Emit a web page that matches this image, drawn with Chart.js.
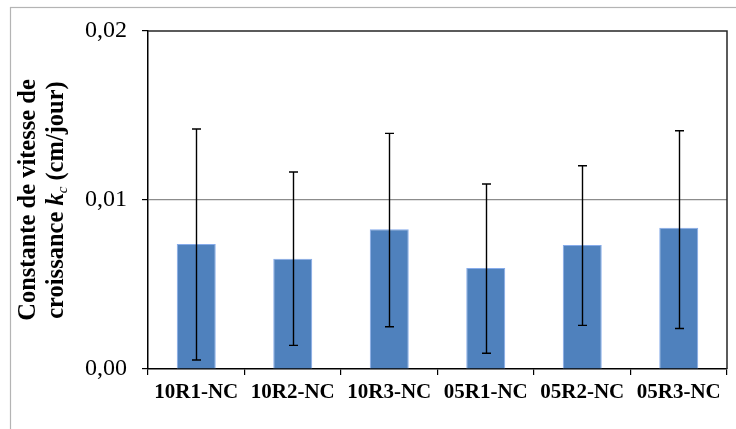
<!DOCTYPE html>
<html>
<head>
<meta charset="utf-8">
<script src="https://cdn.jsdelivr.net/npm/chart.js@4/dist/chart.umd.min.js"></script>
<style>
  html, body { margin: 0; padding: 0; background: #fff; }
  #wrap { width: 736px; height: 429px; position: relative; }
</style>
</head>
<body>
<div id="wrap"><canvas id="myChart"></canvas></div>
<script>
"use strict";

// Données
const categories = ["10R1-NC", "10R2-NC", "10R3-NC", "05R1-NC", "05R2-NC", "05R3-NC"];
const kcValues = [0.0074, 0.00653, 0.00827, 0.00598, 0.00734, 0.00836];
const errHigh = [0.0142, 0.01166, 0.01394, 0.01095, 0.01203, 0.0141];
const errLow = [0.00053, 0.0014, 0.0025, 0.00093, 0.00258, 0.0024];
const yTicks = [0, 0.01, 0.02];

const serif = "Times New Roman, Liberation Serif, serif";

// Cadre gris autour de tout le graphique
const outerFrame = {
  id: "outerFrame",
  beforeDraw(chart) {
    const ctx = chart.ctx;
    ctx.save();
    ctx.fillStyle = "#fff";
    ctx.fillRect(0, 0, chart.width, chart.height);
    ctx.strokeStyle = "#b4b4b4";
    ctx.lineWidth = 1.2;
    ctx.strokeRect(10.5, 7.5, 900, 600);
    ctx.restore();
  }
};

// Barres d'erreur
const errorBars = {
  id: "errorBars",
  afterDatasetsDraw(chart) {
    const ctx = chart.ctx;
    const meta = chart.getDatasetMeta(0);
    const y = chart.scales.y;
    ctx.save();
    ctx.strokeStyle = "#000";
    ctx.lineWidth = 1.4;
    meta.data.forEach(function (bar, i) {
      const x = Math.round(bar.x) + 0.5;
      const top = y.getPixelForValue(errHigh[i]);
      const bottom = y.getPixelForValue(errLow[i]);
      ctx.beginPath();
      ctx.moveTo(x, top);
      ctx.lineTo(x, bottom);
      ctx.moveTo(x - 4.5, top);
      ctx.lineTo(x + 4.5, top);
      ctx.moveTo(x - 4.5, bottom);
      ctx.lineTo(x + 4.5, bottom);
      ctx.stroke();
    });
    // bords haut et droit de la zone de tracé
    const a = chart.chartArea;
    ctx.strokeStyle = "#262626";
    ctx.lineWidth = 1.5;
    ctx.beginPath();
    ctx.moveTo(a.left, a.top);
    ctx.lineTo(a.right, a.top);
    ctx.lineTo(a.right, a.bottom);
    ctx.stroke();
    ctx.restore();
  }
};

// Titre de l'axe Y (deux lignes, k en italique avec indice c)
const yTitle = {
  id: "yTitle",
  afterDraw(chart) {
    const ctx = chart.ctx;
    const a = chart.chartArea;
    const cy = (a.top + a.bottom) / 2;
    ctx.save();
    ctx.fillStyle = "#000";
    ctx.textBaseline = "alphabetic";
    ctx.translate(0, cy);
    ctx.rotate(-Math.PI / 2);

    const bold = "bold 24.5px " + serif;
    const boldIt = "italic bold 24.5px " + serif;
    const subIt = "italic 15px " + serif;

    ctx.font = bold;
    ctx.textAlign = "center";
    ctx.fillText("Constante de vitesse de", 0, 35);

    const parts = [
      { t: "croissance ", f: bold, dy: 0 },
      { t: "k", f: boldIt, dy: 0 },
      { t: "c", f: subIt, dy: 4 },
      { t: " (cm/jour)", f: bold, dy: 0 }
    ];
    let total = 0;
    parts.forEach(function (p) {
      ctx.font = p.f;
      p.w = ctx.measureText(p.t).width;
      total += p.w;
    });
    let x = -total / 2;
    ctx.textAlign = "left";
    parts.forEach(function (p) {
      ctx.font = p.f;
      ctx.fillText(p.t, x, 63 + p.dy);
      x += p.w;
    });
    ctx.restore();
  }
};

function drawChart() {
  const ctx1 = document.getElementById("myChart");

  new Chart(ctx1, {
    type: "bar",
    data: {
      labels: categories,
      datasets: [
        {
          label: "kc",
          data: kcValues,
          backgroundColor: "#4f81bd",
          borderColor: "#86abea",
          borderWidth: 1,
          barPercentage: 0.404,
          categoryPercentage: 1,
        },
      ],
    },
    options: {
      responsive: true,
      maintainAspectRatio: false,
      animation: false,
      layout: {
        padding: { left: 0, top: 31, right: 9, bottom: 0 },
      },
      plugins: {
        legend: { display: false },
        tooltip: { enabled: false },
      },
      scales: {
        x: {
          grid: {
            offset: true,
            drawOnChartArea: false,
            tickLength: 6,
            tickColor: "#000",
            lineWidth: 1.2,
          },
          border: { color: "#000", width: 1.5 },
          ticks: {
            color: "#000",
            padding: 5,
            maxRotation: 0,
            autoSkip: false,
            font: { family: serif, size: 21, weight: "bold" },
          },
          afterFit(scale) {
            scale.height = 60;
          },
        },
        y: {
          min: 0,
          max: 0.02,
          afterBuildTicks(scale) {
            scale.ticks = yTicks.map(function (v) { return { value: v }; });
          },
          grid: {
            tickLength: 6,
            tickColor: "#000",
            color: function (c) {
              if (c.tick && c.tick.value === 0.01) return "#8c8c8c";
              return "rgba(0,0,0,0)";
            },
            lineWidth: 1.2,
          },
          border: { color: "#000", width: 1.5 },
          ticks: {
            color: "#000",
            padding: 15,
            font: { family: serif, size: 24 },
            callback: function (value) {
              return Number(value).toFixed(2).replace(".", ",");
            },
          },
          afterFit(scale) {
            scale.width = 148;
          },
        },
      },
    },
    plugins: [outerFrame, errorBars, yTitle],
  });
}

Promise.all([
  document.fonts.load("24px 'Liberation Serif'"),
  document.fonts.load("bold 24px 'Liberation Serif'"),
  document.fonts.load("italic bold 24px 'Liberation Serif'"),
]).then(drawChart, drawChart);
</script>
</body>
</html>
